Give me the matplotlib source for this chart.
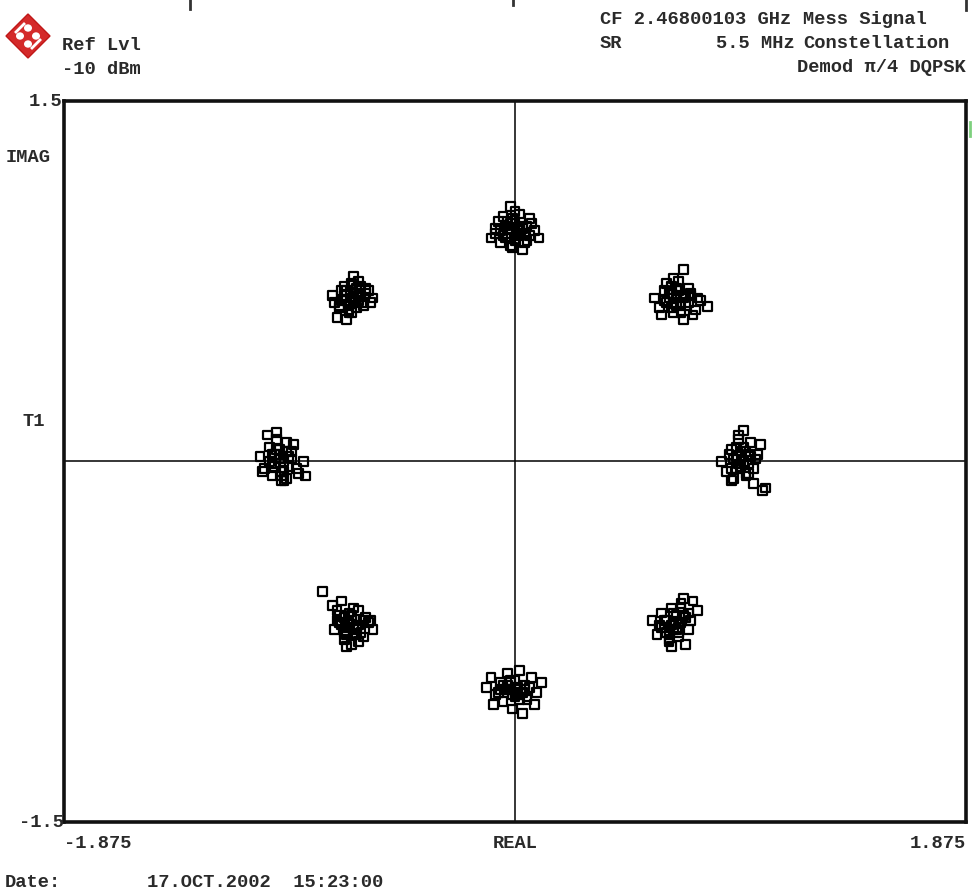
import numpy as np
import matplotlib
matplotlib.use("Agg")
import matplotlib.pyplot as plt
import matplotlib.patches as mpatches
import matplotlib.lines as mlines

W, H = 972, 896

# ── constellation points (I / Q) per symbol cluster ─────────────
top_i = [-0.10, -0.08, -0.06, -0.05, -0.03, -0.02, -0.01, 0.00, 0.01, 0.02,
         0.03, 0.05, 0.06, 0.08, 0.10, -0.07, -0.04, -0.02, 0.00, 0.02,
         0.04, 0.07, -0.05, -0.01, 0.03, 0.05, -0.03, 0.01,
         -0.06, -0.04, -0.02, 0.00, 0.02, 0.04, -0.03, 0.01, 0.06, -0.08]
top_q = [0.93, 0.97, 0.91, 1.02, 0.95, 1.06, 0.89, 0.99, 0.94, 1.03,
         0.97, 0.92, 1.01, 0.96, 0.93, 1.00, 0.98, 0.90, 1.04, 0.96,
         0.91, 0.99, 0.94, 1.01, 0.88, 0.98, 0.97, 0.95,
         0.96, 0.93, 0.99, 0.92, 0.98, 0.95, 1.00, 0.97, 0.94, 0.95]

ul_i = [-0.76, -0.73, -0.71, -0.69, -0.67, -0.65, -0.63, -0.61, -0.59, -0.74,
        -0.70, -0.68, -0.66, -0.64, -0.62, -0.72, -0.69, -0.67, -0.65, -0.70,
        -0.66, -0.63, -0.75, -0.68, -0.64, -0.71, -0.60,
        -0.72, -0.70, -0.67, -0.65, -0.62, -0.69, -0.66, -0.73, -0.68]
ul_q = [0.69, 0.65, 0.73, 0.62, 0.70, 0.75, 0.66, 0.71, 0.68, 0.60,
        0.67, 0.74, 0.64, 0.69, 0.72, 0.71, 0.63, 0.77, 0.67, 0.59,
        0.70, 0.65, 0.66, 0.68, 0.73, 0.69, 0.66,
        0.67, 0.71, 0.66, 0.69, 0.70, 0.65, 0.72, 0.64, 0.62]

ur_i = [0.58, 0.60, 0.62, 0.63, 0.65, 0.66, 0.67, 0.68, 0.70, 0.71,
        0.73, 0.75, 0.77, 0.80, 0.61, 0.64, 0.66, 0.69, 0.72, 0.74,
        0.70, 0.63, 0.67, 0.71, 0.65, 0.69, 0.76,
        0.62, 0.64, 0.66, 0.68, 0.70, 0.72, 0.65, 0.67, 0.73]
ur_q = [0.68, 0.64, 0.71, 0.66, 0.73, 0.62, 0.69, 0.75, 0.80, 0.65,
        0.70, 0.63, 0.67, 0.645, 0.61, 0.68, 0.76, 0.66, 0.72, 0.61,
        0.59, 0.74, 0.65, 0.69, 0.70, 0.62, 0.68,
        0.67, 0.70, 0.66, 0.71, 0.68, 0.66, 0.64, 0.72, 0.69]

l_i = [-1.06, -1.04, -1.02, -1.01, -0.99, -0.98, -0.97, -0.95, -0.94, -0.92,
       -0.90, -0.88, -1.03, -1.00, -0.96, -0.93, -0.99, -0.97, -1.01, -0.95,
       -0.98, -0.91, -1.05, -0.96, -0.93, -0.87,
       -1.02, -1.00, -0.98, -0.96, -0.94, -0.97, -0.99, -1.01, -0.95]
l_q = [0.02, -0.03, 0.06, -0.06, 0.09, 0.01, -0.08, 0.04, -0.02, 0.07,
       -0.05, 0.00, 0.11, 0.03, -0.04, 0.01, 0.12, -0.06, -0.01, 0.08,
       0.05, -0.03, -0.04, -0.08, 0.04, -0.06,
       0.00, -0.02, 0.03, 0.00, 0.02, -0.04, 0.05, 0.03, -0.07]

r_i = [0.86, 0.88, 0.90, 0.91, 0.92, 0.93, 0.94, 0.95, 0.96, 0.97,
       0.98, 0.99, 1.00, 1.02, 1.04, 0.89, 0.92, 0.95, 0.97, 0.93,
       0.96, 1.01, 0.90, 0.98, 0.94, 1.03,
       0.91, 0.93, 0.95, 0.97, 0.99, 0.92, 0.94, 0.96, 0.90]
r_q = [0.00, -0.04, 0.05, -0.07, 0.02, 0.09, -0.02, 0.13, 0.04, -0.05,
       0.08, -0.09, 0.01, 0.07, -0.11, 0.03, -0.03, 0.06, -0.01, 0.11,
       -0.06, 0.03, -0.08, 0.02, 0.01, -0.12,
       0.01, -0.01, 0.00, 0.03, -0.03, 0.06, 0.04, -0.05, -0.03]

ll_i = [-0.80, -0.76, -0.74, -0.72, -0.71, -0.69, -0.68, -0.66, -0.65, -0.63,
        -0.61, -0.59, -0.75, -0.73, -0.70, -0.67, -0.64, -0.62, -0.71, -0.68,
        -0.66, -0.74, -0.70, -0.65, -0.60, -0.72,
        -0.73, -0.71, -0.69, -0.67, -0.65, -0.63, -0.70, -0.68, -0.66]
ll_q = [-0.54, -0.60, -0.66, -0.58, -0.71, -0.63, -0.76, -0.68, -0.62, -0.73,
        -0.67, -0.70, -0.70, -0.64, -0.69, -0.61, -0.71, -0.65, -0.74, -0.66,
        -0.72, -0.62, -0.77, -0.75, -0.66, -0.68,
        -0.67, -0.65, -0.67, -0.70, -0.68, -0.66, -0.72, -0.64, -0.69]

lr_i = [0.57, 0.59, 0.61, 0.62, 0.64, 0.65, 0.66, 0.68, 0.69, 0.70,
        0.72, 0.74, 0.76, 0.60, 0.63, 0.67, 0.71, 0.73, 0.66, 0.69,
        0.62, 0.70, 0.65, 0.68, 0.72, 0.64,
        0.61, 0.63, 0.65, 0.67, 0.69, 0.71, 0.64, 0.66, 0.68]
lr_q = [-0.66, -0.72, -0.63, -0.69, -0.75, -0.61, -0.67, -0.73, -0.59, -0.64,
        -0.70, -0.58, -0.62, -0.68, -0.71, -0.64, -0.76, -0.66, -0.70, -0.61,
        -0.66, -0.57, -0.77, -0.69, -0.63, -0.74,
        -0.69, -0.66, -0.68, -0.70, -0.67, -0.65, -0.72, -0.63, -0.71]

b_i = [-0.12, -0.10, -0.08, -0.06, -0.05, -0.03, -0.02, -0.01, 0.00, 0.01,
       0.02, 0.04, 0.05, 0.07, 0.09, 0.11, -0.09, -0.04, 0.00, 0.03,
       0.06, -0.07, -0.02, 0.02, -0.05, 0.08,
       -0.06, -0.03, -0.01, 0.01, 0.03, 0.05, -0.02, 0.00, 0.04]
b_q = [-0.94, -0.90, -0.97, -0.92, -1.00, -0.88, -0.95, -1.03, -0.91, -0.97,
       -0.87, -0.93, -0.99, -0.90, -0.96, -0.92, -1.01, -0.95, -0.98, -1.05,
       -0.94, -0.96, -0.91, -0.99, -0.93, -1.01,
       -0.95, -0.93, -0.97, -0.94, -0.96, -0.98, -0.92, -0.96, -0.95]

clusters = [(top_i, top_q), (ul_i, ul_q), (ur_i, ur_q), (l_i, l_q),
            (r_i, r_q), (ll_i, ll_q), (lr_i, lr_q), (b_i, b_q)]

x_lim = (-1.875, 1.875)
y_lim = (-1.5, 1.5)

FONT = "Liberation Mono"
TXT = "#2a2a2a"
FS = 13.5


def px(x, y):
    return x / W, 1 - y / H


fig = plt.figure(figsize=(W / 100, H / 100), dpi=100, facecolor="white")
ax = fig.add_axes([64 / W, 1 - 822 / H, 902 / W, 721 / H])

for ci, cq in clusters:
    ax.scatter(ci, cq, marker="s", s=40, facecolors="none",
               edgecolors="black", linewidths=1.6, zorder=3)

ax.axhline(0, color="black", lw=1.1, zorder=2)
ax.axvline(0, color="black", lw=1.1, zorder=2)
ax.set_xlim(*x_lim)
ax.set_ylim(*y_lim)
ax.set_xticks([])
ax.set_yticks([])
for sp in ax.spines.values():
    sp.set_linewidth(2.6)
    sp.set_color("#111111")


def label(x, y, s, ha="left"):
    fig.text(*px(x, y), s, ha=ha, va="center", family=FONT,
             fontsize=FS, color=TXT, fontweight="bold")


# header
label(62, 46, "Ref Lvl")
label(62, 69, "-10 dBm")
label(600, 19, "CF 2.46800103 GHz")
label(803, 19, "Mess Signal")
label(600, 43, "SR")
label(795, 43, "5.5 MHz", ha="right")
label(803, 43, "Constellation")
label(966, 68, "Demod π/4 DQPSK", ha="right")

# axis annotations
label(62, 101, "1.5", ha="right")
label(6, 157, "IMAG")
label(22, 421, "T1")
label(64, 822, "-1.5", ha="right")
label(64, 843, "-1.875")
label(515, 843, "REAL", ha="center")
label(966, 843, "1.875", ha="right")

label(5, 882, "Date:")
label(147, 882, "17.OCT.2002  15:23:00")

# instrument logo: red diamond with white marks
cx, cy, r = 28, 36, 22
diamond = mpatches.Polygon([px(cx, cy - r), px(cx + r, cy), px(cx, cy + r), px(cx - r, cy)],
                           closed=True, transform=fig.transFigure,
                           facecolor="#d42a2a", edgecolor="#c01818", lw=1)
fig.patches.append(diamond)
for dx, dy in [(-8, 0), (8, 0), (0, -8), (0, 8)]:
    dot = mpatches.Circle(px(cx + dx, cy + dy), radius=4 / W,
                          transform=fig.transFigure, facecolor="white",
                          edgecolor="none")
    fig.patches.append(dot)
for (x0, y0, x1, y1) in [(cx - 12, cy - 4, cx - 4, cy - 12), (cx + 4, cy + 12, cx + 12, cy + 4)]:
    fig.lines.append(mlines.Line2D([x0 / W, x1 / W], [1 - y0 / H, 1 - y1 / H],
                                   transform=fig.transFigure, color="white", lw=2))

# small screen marks along the top edge
for xm, ylen in [(190, 9), (513, 5), (966, 10)]:
    fig.lines.append(mlines.Line2D([xm / W, xm / W], [1, 1 - ylen / H],
                                   transform=fig.transFigure, color="#333333", lw=2))
fig.lines.append(mlines.Line2D([970 / W, 970 / W], [1 - 122 / H, 1 - 136 / H],
                               transform=fig.transFigure, color="#7ed07e", lw=2))

fig.savefig("out.png", dpi=100, facecolor="white")
